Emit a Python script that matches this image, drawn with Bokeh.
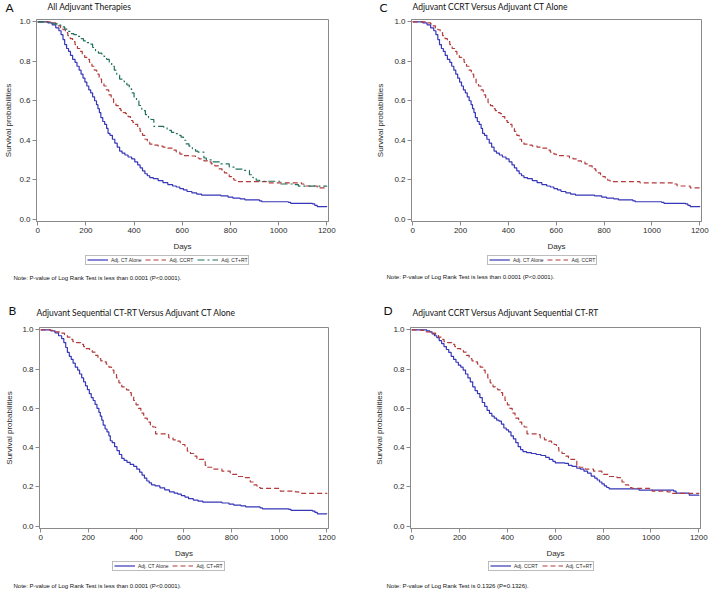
import numpy as np
from bokeh.plotting import figure
from bokeh.models import Legend, LegendItem, Label, FixedTicker, PrintfTickFormatter, Range1d
from bokeh.layouts import column, row
from bokeh.embed import file_html
from bokeh.resources import INLINE

# ---- Kaplan-Meier curves (days, survival probability) ----
ct_alone_days = [0, 42, 60, 75, 88, 97, 105, 112, 120, 128, 136, 145, 155, 163, 172,
                 180, 188, 196, 204, 212, 220, 228, 236, 244, 250, 256, 262, 270, 278, 286,
                 292, 300, 310, 320, 330, 340, 350, 362, 375, 390, 403, 415, 425, 435, 445,
                 455, 465, 480, 500, 520, 540, 560, 575, 590, 605, 620, 640, 660, 680, 760,
                 790, 810, 840, 860, 920, 930, 1040, 1050, 1140, 1150, 1160, 1200]
ct_alone_surv = [1.0, 0.995, 0.985, 0.97, 0.955, 0.935, 0.91, 0.885, 0.865, 0.85, 0.83, 0.81, 0.795, 0.775, 0.755,
                 0.735, 0.715, 0.695, 0.675, 0.655, 0.64, 0.62, 0.6, 0.58, 0.56, 0.54, 0.515, 0.495, 0.48, 0.46,
                 0.435, 0.425, 0.405, 0.385, 0.365, 0.345, 0.335, 0.325, 0.315, 0.305, 0.29, 0.275, 0.26, 0.245, 0.23,
                 0.22, 0.21, 0.205, 0.195, 0.185, 0.175, 0.168, 0.163, 0.155, 0.148, 0.14, 0.133, 0.127, 0.122, 0.118,
                 0.112, 0.107, 0.103, 0.098, 0.093, 0.088, 0.085, 0.08, 0.077, 0.07, 0.063, 0.062]

ccrt_days = [0, 63, 75, 85, 95, 105, 115, 125, 135, 145, 155, 165, 175, 185, 195,
             205, 215, 225, 235, 245, 255, 265, 275, 285, 295, 305, 315, 325, 335, 345,
             355, 365, 375, 385, 395, 405, 415, 425, 435, 445, 455, 465, 480, 500, 520,
             540, 560, 575, 590, 600, 640, 655, 670, 690, 705, 720, 735, 750, 765, 775,
             785, 795, 805, 815, 825, 950, 1095, 1105, 1160, 1200]
ccrt_surv = [1.0, 0.995, 0.99, 0.98, 0.97, 0.96, 0.945, 0.93, 0.915, 0.9, 0.885, 0.865, 0.85, 0.835, 0.82,
             0.81, 0.795, 0.775, 0.755, 0.735, 0.71, 0.69, 0.675, 0.655, 0.63, 0.61, 0.59, 0.575, 0.56, 0.55,
             0.54, 0.535, 0.52, 0.5, 0.49, 0.48, 0.46, 0.445, 0.425, 0.405, 0.39, 0.38, 0.375, 0.37, 0.365,
             0.36, 0.35, 0.34, 0.33, 0.322, 0.32, 0.31, 0.305, 0.295, 0.29, 0.28, 0.27, 0.255, 0.245, 0.235,
             0.225, 0.215, 0.205, 0.197, 0.19, 0.184, 0.178, 0.168, 0.158, 0.155]

ctrt_days = [0, 40, 60, 84, 100, 112, 125, 135, 150, 167, 180, 190, 205, 216, 228,
             240, 252, 265, 275, 286, 297, 307, 318, 328, 340, 350, 360, 370, 380, 390,
             400, 410, 420, 432, 447, 460, 470, 482, 523, 537, 555, 572, 585, 595, 605,
             615, 628, 642, 655, 665, 690, 700, 726, 760, 795, 823, 858, 879, 893, 907,
             921, 1005, 1068, 1082, 1200]
ctrt_surv = [1.0, 0.997, 0.99, 0.983, 0.975, 0.963, 0.952, 0.94, 0.935, 0.926, 0.915, 0.904, 0.895, 0.887, 0.87,
             0.853, 0.842, 0.837, 0.825, 0.81, 0.795, 0.775, 0.755, 0.73, 0.71, 0.7, 0.694, 0.68, 0.66, 0.64,
             0.618, 0.6, 0.576, 0.55, 0.53, 0.515, 0.505, 0.47, 0.466, 0.45, 0.44, 0.433, 0.425, 0.416, 0.4,
             0.382, 0.37, 0.357, 0.345, 0.34, 0.31, 0.3, 0.29, 0.28, 0.264, 0.253, 0.247, 0.225, 0.21, 0.197,
             0.192, 0.178, 0.175, 0.167, 0.165]

x_ticks = [0, 200, 400, 600, 800, 1000, 1200]
y_ticks = [0.0, 0.2, 0.4, 0.6, 0.8, 1.0]

series = {
    "Adj. CT Alone": (ct_alone_days, ct_alone_surv),
    "Adj. CCRT": (ccrt_days, ccrt_surv),
    "Adj. CT+RT": (ctrt_days, ctrt_surv),
}

panel_letters = ["A", "B", "C", "D"]
panel_titles = ["All Adjuvant Therapies",
                "Adjuvant Sequential CT-RT Versus Adjuvant CT Alone",
                "Adjuvant CCRT Versus Adjuvant CT Alone",
                "Adjuvant CCRT Versus Adjuvant Sequential CT-RT"]
legend_A = ["Adj. CT Alone", "Adj. CCRT", "Adj. CT+RT"]
legend_B = ["Adj. CT Alone", "Adj. CT+RT"]
legend_C = ["Adj. CT Alone", "Adj. CCRT"]
legend_D = ["Adj. CCRT", "Adj. CT+RT"]
note_sig = "Note: P-value of Log Rank Test  is less than 0.0001 (P<0.0001)."
note_d = "Note: P-value of Log Rank Test is 0.1326 (P=0.1326)."

BLUE = "#3636b8"
RED = "#b23b3b"
GREEN = "#21705e"
STYLES = [(BLUE, "solid"), (RED, "5 3"), (GREEN, "7 3 2 3")]
AXIS_GREY = "#8a8a8a"
TXT = "#2b2b2b"
LW = 1.2
W = 709


def text_label(x, y, text, font, size, color="#111111"):
    return Label(x=x, y=y, x_units="screen", y_units="screen", text=text,
                 text_font=font, text_font_size=size, text_color=color,
                 text_baseline="middle", text_align="left")


def letter(x, y, t):
    return text_label(x, y, t, "Lato", "12px")


def title(x, y, t):
    return text_label(x, y, t, "Lato", "8.5px")


def note(x, y, t):
    return text_label(x, y, t, "Liberation Sans", "6px")


def strip(height, labels, legends=()):
    s = figure(width=W, height=height, x_range=Range1d(0, 1), y_range=Range1d(0, 1),
               output_backend="svg", toolbar_location=None, min_border=0,
               x_axis_location=None, y_axis_location=None, outline_line_color=None)
    s.grid.visible = False
    for lab in labels:
        s.add_layout(lab)
    for names, lx, ly in legends:
        items = []
        for i, name in enumerate(names):
            col, dash = STYLES[i]
            # legend key only (an undrawable NaN point); the curves are drawn in the panels
            r = s.line(x=np.array([np.nan]), y=np.array([np.nan]),
                       line_color=col, line_width=LW, line_dash=dash)
            items.append(LegendItem(label=name, renderers=[r]))
        leg = Legend(items=items, location=(lx, ly), orientation="horizontal",
                     label_text_font="Liberation Sans", label_text_font_size="5px",
                     label_text_color=TXT, glyph_width=21, glyph_height=5, label_height=5,
                     label_standoff=3, spacing=4, padding=1, margin=0,
                     border_line_color="#7a7a7a", border_line_width=1, background_fill_alpha=1)
        s.add_layout(leg, "center")
    return s


def panel(width, height, mb_left, mb_right, mb_top, mb_bottom, names, ylab_standoff):
    p = figure(width=width, height=height, title=None,
               x_range=Range1d(-5, 1207), y_range=Range1d(-0.012, 1.012),
               output_backend="svg", toolbar_location=None,
               min_border_left=mb_left, min_border_right=mb_right,
               min_border_top=mb_top, min_border_bottom=mb_bottom,
               outline_line_color=AXIS_GREY, outline_line_width=1)
    p.grid.visible = False
    p.xaxis.ticker = FixedTicker(ticks=x_ticks)
    p.yaxis.ticker = FixedTicker(ticks=y_ticks)
    p.yaxis.formatter = PrintfTickFormatter(format="%.1f")
    p.axis.minor_tick_line_color = None
    p.axis.major_tick_in = 0
    p.axis.major_tick_out = 4
    p.axis.axis_line_color = AXIS_GREY
    p.axis.major_tick_line_color = AXIS_GREY
    p.axis.major_label_text_font = "Liberation Sans"
    p.axis.major_label_text_font_size = "8px"
    p.axis.major_label_text_color = TXT
    p.axis.major_label_standoff = 2
    p.axis.axis_label_text_font = "Liberation Sans"
    p.axis.axis_label_text_font_size = "8px"
    p.axis.axis_label_text_font_style = "normal"
    p.axis.axis_label_text_color = TXT
    p.xaxis.axis_label = "Days"
    p.xaxis.axis_label_standoff = 6
    p.yaxis.axis_label = "Survival probabilities"
    p.yaxis.axis_label_standoff = ylab_standoff
    for i, name in enumerate(names):
        d, s = series[name]
        col, dash = STYLES[i]
        p.step(d, s, mode="after", line_color=col, line_width=LW, line_dash=dash)
    return p


# top strip: letters and titles of A and C
header = strip(14, [letter(5, 7, panel_letters[0]), title(47, 7.5, panel_titles[0]),
                    letter(379, 7, panel_letters[2]), title(412, 7.5, panel_titles[2])])

pA = panel(355, 239, 36, 27, 5, 31, legend_A, 3)
pC = panel(354, 239, 56, 8, 5, 31, legend_C, 6)

# middle strip: legends + notes of A and C, letters and titles of B and D
middle = strip(66, [note(13, 42, note_sig), note(386, 43, note_sig),
                    letter(8, 9, panel_letters[1]), title(36, 7, panel_titles[1]),
                    letter(383, 9, panel_letters[3]), title(412, 7, panel_titles[3])],
               [(legend_A, 85, 54.5), (legend_C, 487, 54.5)])

pB = panel(355, 241, 39, 27, 8, 31, legend_B, 5)
pD = panel(354, 241, 55, 9, 8, 31, legend_D, 6)

# bottom strip: legends + notes of B and D
footer = strip(30, [note(13, 5, note_sig), note(386, 5, note_d)],
               [(legend_B, 112, 19.5), (legend_D, 488, 19.5)])

layout = column(header, row(pA, pC), middle, row(pB, pD), footer)

open("out.html", "w").write(file_html(layout, INLINE))
